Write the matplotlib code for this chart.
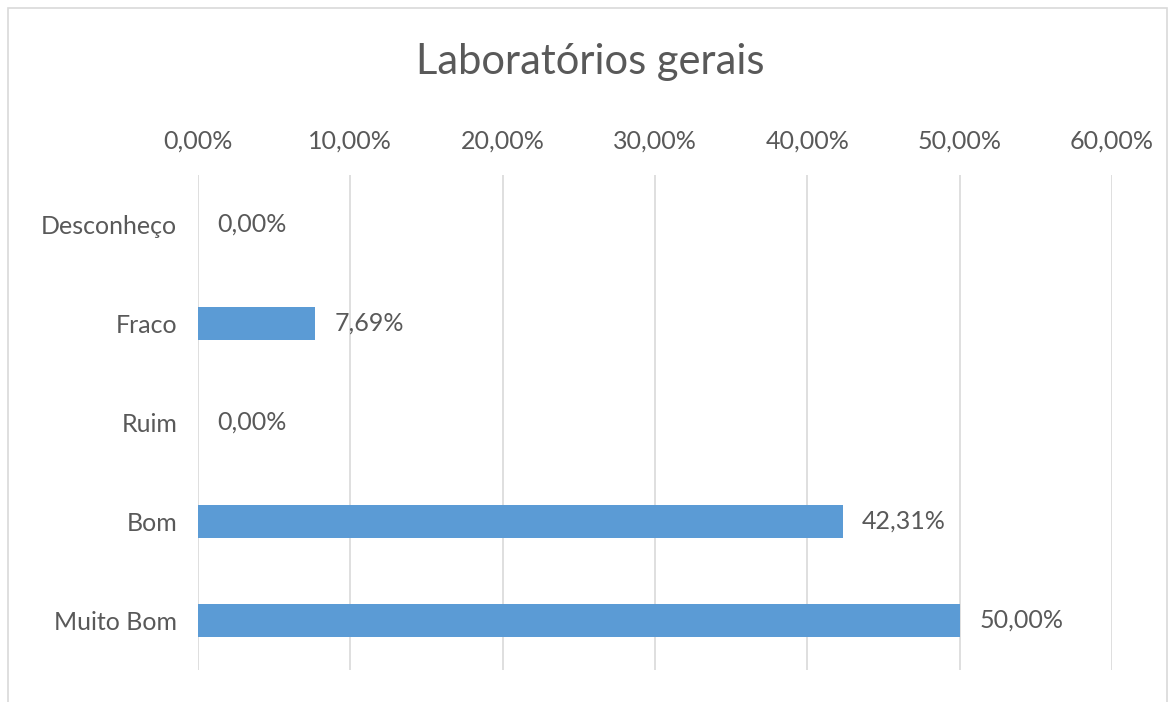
import matplotlib.pyplot as plt
import matplotlib.ticker as ticker
from matplotlib.patches import Rectangle

categories = ['Desconheço', 'Fraco', 'Ruim', 'Bom', 'Muito Bom']
values = [0.0, 7.69, 0.0, 42.31, 50.0]
xticks = [0, 10, 20, 30, 40, 50, 60]

plt.rcParams['font.family'] = ['Lato', 'DejaVu Sans']
text_color = '#595959'
bar_color = '#5b9bd5'
grid_color = '#d9d9d9'


def pct(v):
    return ('%.2f%%' % v).replace('.', ',')


fig = plt.figure(figsize=(11.71, 7.02), dpi=100)
ax = fig.add_axes([198/1171, 1 - 670/702, (1112 - 198)/1171, (670 - 175)/702])

pos = list(range(len(categories)))
ax.barh(pos, values, height=0.34, color=bar_color, zorder=2)
ax.set_ylim(len(categories) - 0.5, -0.5)
ax.set_xlim(0, 60)
ax.set_yticks(pos)
ax.set_yticklabels(categories)
ax.set_xticks(xticks)
ax.xaxis.set_major_formatter(ticker.FuncFormatter(lambda v, p: pct(v)))
ax.xaxis.tick_top()
ax.tick_params(axis='both', length=0, labelsize=18, colors=text_color)
ax.tick_params(axis='x', pad=16)
ax.tick_params(axis='y', pad=15)
ax.grid(axis='x', color=grid_color, linewidth=1.2, zorder=0)
for s in ax.spines.values():
    s.set_visible(False)

for p, v in zip(pos, values):
    ax.annotate(pct(v), (v, p), xytext=(14, 0), textcoords='offset points',
                va='center', ha='left', fontsize=18, color=text_color)

fig.text(590/1171, 1 - 62/702, 'Laboratórios gerais', fontsize=30,
         color=text_color, ha='center', va='center')

fig.patches.append(Rectangle((8/1171, -0.05), (1167 - 8)/1171, 1.05 - 8/702,
                             transform=fig.transFigure, fill=False,
                             edgecolor='#d9d9d9', linewidth=1.2))

fig.savefig('out.png', dpi=100)
